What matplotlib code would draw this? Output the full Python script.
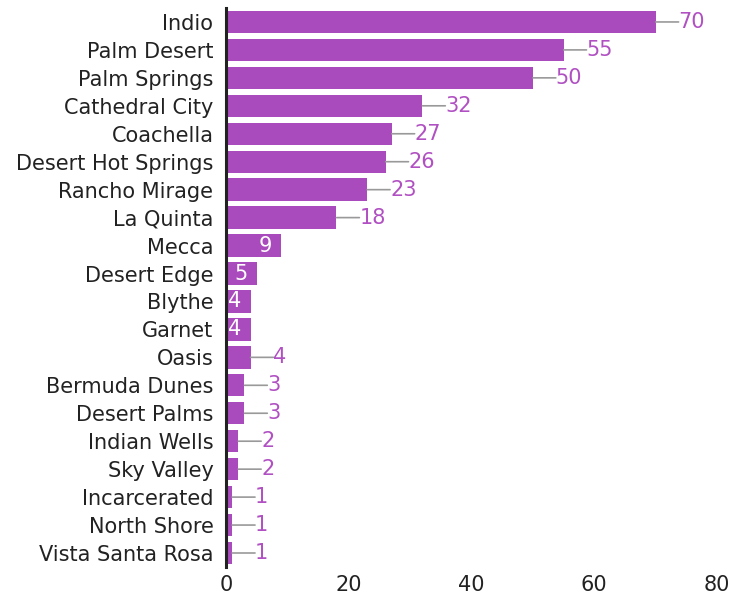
import matplotlib
matplotlib.use("Agg")
import matplotlib.pyplot as plt

# data
cities = ["Indio", "Palm Desert", "Palm Springs", "Cathedral City", "Coachella",
          "Desert Hot Springs", "Rancho Mirage", "La Quinta", "Mecca", "Desert Edge",
          "Blythe", "Garnet", "Oasis", "Bermuda Dunes", "Desert Palms",
          "Indian Wells", "Sky Valley", "Incarcerated", "North Shore", "Vista Santa Rosa"]
counts = [70, 55, 50, 32, 27, 26, 23, 18, 9, 5, 4, 4, 4, 3, 3, 2, 2, 1, 1, 1]
inside_labels = ["Mecca", "Desert Edge", "Blythe", "Garnet"]
xticks = [0, 20, 40, 60, 80]

bar_col = "#aa4bbd"
lab_col = "#b050c2"

plt.rcParams['font.family'] = ['DejaVu Sans']

fig = plt.figure(figsize=(7.54, 5.96), dpi=100)
ax = fig.add_axes([0.2997, 0.0487, 0.6513, 0.9379])

pos = list(range(len(cities)))
ax.barh(pos, counts, height=0.8, color=bar_col)

for i, (c, v) in enumerate(zip(cities, counts)):
    if c in inside_labels:
        ax.annotate(str(v), xy=(v, i), xytext=(-6.5, 0), textcoords='offset points',
                    ha='right', va='center', color='white', fontsize=15)
    else:
        # leader line, then the number
        ax.annotate("", xy=(v, i), xytext=(16.5, 0), textcoords='offset points',
                    arrowprops=dict(arrowstyle='-', color='#999999', lw=1.2,
                                    shrinkA=0, shrinkB=0))
        ax.annotate(str(v), xy=(v, i), xytext=(16.5, 0), textcoords='offset points',
                    ha='left', va='center', color=lab_col, fontsize=15)

ax.set_xlim(0, 80)
ax.set_ylim(19.5, -0.5)
ax.set_yticks(pos)
ax.set_yticklabels(cities)
ax.set_xticks(xticks)
ax.tick_params(axis='both', length=0, labelsize=15, colors='#222222')
ax.tick_params(axis='y', pad=9)
ax.tick_params(axis='x', pad=6)

for s in ["top", "right", "bottom"]:
    ax.spines[s].set_visible(False)
ax.spines["left"].set_linewidth(2.2)
ax.spines["left"].set_color("#222222")

fig.savefig("out.png", dpi=100)
